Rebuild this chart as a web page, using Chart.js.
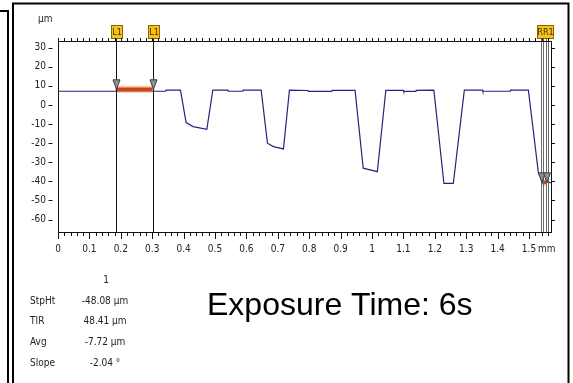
<!DOCTYPE html>
<html><head><meta charset="utf-8">
<script src="https://cdn.jsdelivr.net/npm/chart.js@4/dist/chart.umd.min.js"></script>
<style>html,body{margin:0;padding:0;background:#fff;}canvas{display:block}</style>
</head><body>
<canvas id="c" width="573" height="383"></canvas>
<script>
// ---- data ----
const profileX = [0, 0.343, 0.344, 0.39, 0.408, 0.43, 0.474, 0.493, 0.541, 0.542, 0.589, 0.59, 0.647,
  0.667, 0.686, 0.718, 0.737, 0.796, 0.797, 0.872, 0.873, 0.946, 0.972, 0.994, 1.017, 1.044,
  1.10, 1.101, 1.14, 1.141, 1.197, 1.229, 1.259, 1.294, 1.352, 1.353, 1.44, 1.441, 1.498,
  1.53, 1.545, 1.57];
const profileY = [7.2, 7.2, 7.8, 7.8, -9.2, -11.3, -12.7, 7.8, 7.8, 7.2, 7.2, 7.8, 7.8,
  -20.0, -21.8, -23.0, 7.8, 7.6, 7.1, 7.1, 7.6, 7.6, -33.1, -34.0, -34.9, 7.6,
  7.6, 7.1, 7.1, 7.7, 7.8, -41.0, -41.0, 7.8, 7.8, 7.2, 7.2, 7.8, 7.8,
  -35.8, -40.3, -40.6];
const yTickValues = [30, 20, 10, 0, -10, -20, -30, -40, -50, -60];
const xTickValues = [0, 0.1, 0.2, 0.3, 0.4, 0.5, 0.6, 0.7, 0.8, 0.9, 1, 1.1, 1.2, 1.3, 1.4, 1.5];
const markerL = [0.184, 0.301];
const markerR = [1.541, 1.557];
const levelL = 8.2;
const levelR = -40.5;
const markerLabelsL = ['L1', 'L1'];
const markerLabelR = 'RR1';
const xRange = [0, 1.57];
const yRange = [-66.5, 33.5];
const yUnit = 'µm';
const xUnit = 'mm';
const statHeader = '1';
const statNames = ['StpHt', 'TIR', 'Avg', 'Slope'];
const statValues = ['-48.08 µm', '48.41 µm', '-7.72 µm', '-2.04 °'];
const annotation = 'Exposure Time: 6s';

const FONT = '"Liberation Sans Narrow","DejaVu Sans Condensed","Liberation Sans",sans-serif';
const profile = profileX.map((x, i) => ({x, y: profileY[i]}));
const segL = markerL.map(x => ({x, y: levelL}));
const segR = markerR.map(x => ({x, y: levelR}));

const framePlugin = {
  id: 'frame',
  beforeDraw(chart) {
    const ctx = chart.ctx;
    ctx.save();
    ctx.fillStyle = '#fff';
    ctx.fillRect(0, 0, chart.width, chart.height);
    ctx.strokeStyle = '#000';
    ctx.lineWidth = 2;
    ctx.beginPath();
    ctx.moveTo(0, 11); ctx.lineTo(8, 11); ctx.lineTo(8, 390);
    ctx.stroke();
    ctx.strokeRect(13, 3.5, 555.5, 390);
    ctx.restore();
  }
};

const axesPlugin = {
  id: 'axesExtra',
  afterDraw(chart) {
    const ctx = chart.ctx, a = chart.chartArea;
    const xs = chart.scales.x, ys = chart.scales.y;
    ctx.save();
    ctx.strokeStyle = '#111';
    ctx.lineWidth = 1;
    ctx.beginPath();
    ctx.moveTo(a.left, a.top + 0.5); ctx.lineTo(a.right, a.top + 0.5);
    ctx.moveTo(a.right + 0.5, a.top); ctx.lineTo(a.right + 0.5, a.bottom);
    ctx.stroke();
    ctx.beginPath();
    for (let k = 0; k * 0.02 <= xRange[1] + 1e-9; k++) {
      const px = Math.round(xs.getPixelForValue(k * 0.02)) + 0.5;
      const major = k % 5 === 0;
      ctx.moveTo(px, a.bottom); ctx.lineTo(px, a.bottom + (major ? 7 : 4));
      ctx.moveTo(px, a.top); ctx.lineTo(px, a.top - 3);
    }
    ys.ticks.forEach(t => {
      const py = Math.round(ys.getPixelForValue(t.value)) + 0.5;
      ctx.moveTo(48.5, py); ctx.lineTo(52.5, py);
      ctx.moveTo(a.right, py); ctx.lineTo(a.right + 4, py);
    });
    ctx.stroke();
    ctx.fillStyle = '#222';
    ctx.font = '10px ' + FONT;
    ctx.textBaseline = 'middle';
    ctx.textAlign = 'left';
    ctx.fillText(yUnit, 38, 19);
    const last = xs.ticks[xs.ticks.length - 1];
    ctx.fillText(xUnit, xs.getPixelForValue(last.value) + 9, 249);
    ctx.textAlign = 'center';
    ctx.fillText(statHeader, 106, 280);
    statNames.forEach((n, i) => {
      const y = 301 + i * 20.7;
      ctx.textAlign = 'left';
      ctx.fillText(n, 30, y);
      ctx.textAlign = 'center';
      ctx.fillText(statValues[i], 105, y);
    });
    ctx.fillStyle = '#000';
    ctx.font = '32px "Liberation Sans", Arial, sans-serif';
    ctx.textAlign = 'left';
    ctx.textBaseline = 'alphabetic';
    ctx.fillText(annotation, 207, 315);
    ctx.restore();
  }
};

function drawArrow(ctx, px, tipY) {
  ctx.beginPath();
  ctx.moveTo(px - 3.5, tipY - 9.5);
  ctx.lineTo(px + 3.5, tipY - 9.5);
  ctx.lineTo(px, tipY);
  ctx.closePath();
  ctx.fillStyle = '#8f8f96';
  ctx.fill();
  ctx.strokeStyle = '#3a3a44';
  ctx.lineWidth = 1;
  ctx.stroke();
}
function drawTag(ctx, x0, w, text) {
  ctx.fillStyle = '#f3c21c';
  ctx.fillRect(x0, 25, w, 14);
  ctx.strokeStyle = '#8a6200';
  ctx.lineWidth = 1;
  ctx.strokeRect(x0 + 0.5, 25.5, w - 1, 13);
  ctx.fillStyle = '#4a3000';
  ctx.font = '9px ' + FONT;
  ctx.textAlign = 'center';
  ctx.textBaseline = 'middle';
  ctx.fillText(text, x0 + w / 2, 32.5);
}

const markerPlugin = {
  id: 'markers',
  afterDatasetsDraw(chart) {
    const ctx = chart.ctx, a = chart.chartArea;
    const xs = chart.scales.x, ys = chart.scales.y;
    ctx.save();
    ctx.strokeStyle = '#111';
    ctx.lineWidth = 1;
    markerL.forEach(v => {
      const px = Math.round(xs.getPixelForValue(v)) + 0.5;
      ctx.beginPath(); ctx.moveTo(px, 39); ctx.lineTo(px, a.bottom); ctx.stroke();
    });
    ctx.strokeStyle = '#6a6a6a';
    markerR.forEach(v => {
      const px = xs.getPixelForValue(v);
      ctx.beginPath();
      ctx.moveTo(Math.round(px - 1) + 0.5, 39); ctx.lineTo(Math.round(px - 1) + 0.5, a.bottom);
      ctx.moveTo(Math.round(px + 1) + 0.5, 39); ctx.lineTo(Math.round(px + 1) + 0.5, a.bottom);
      ctx.stroke();
    });
    markerL.forEach(v => drawArrow(ctx, Math.round(xs.getPixelForValue(v)) + 0.5, ys.getPixelForValue(levelL)));
    markerR.forEach(v => drawArrow(ctx, xs.getPixelForValue(v), ys.getPixelForValue(levelR)));
    markerL.forEach((v, i) => {
      const px = xs.getPixelForValue(v);
      drawTag(ctx, Math.round(px) - 5, 12, markerLabelsL[i]);
    });
    const r0 = xs.getPixelForValue(markerR[0]);
    drawTag(ctx, Math.round(r0) - 5, 17, markerLabelR);
    ctx.restore();
  }
};

new Chart(document.getElementById('c'), {
  type: 'scatter',
  data: {
    datasets: [
      {data: segL, showLine: true, borderColor: '#d3401c', borderWidth: 3.5, pointRadius: 0, order: 0},
      {data: segR, showLine: true, borderColor: '#d3401c', borderWidth: 3.5, pointRadius: 0, order: 0},
      {data: segL, showLine: true, borderColor: 'rgba(245,165,70,0.55)', borderWidth: 7, pointRadius: 0, order: 1},
      {data: segR, showLine: true, borderColor: 'rgba(245,165,70,0.55)', borderWidth: 7, pointRadius: 0, order: 1},
      {data: profile, showLine: true, borderColor: '#25257e', borderWidth: 1.2, pointRadius: 0, tension: 0, order: 2}
    ]
  },
  options: {
    responsive: false,
    animation: false,
    devicePixelRatio: 1,
    layout: {padding: {left: 18, right: 22, top: 41, bottom: 121}},
    plugins: {legend: {display: false}, tooltip: {enabled: false}},
    scales: {
      x: {
        type: 'linear', min: xRange[0], max: xRange[1],
        afterFit: s => { s.height = 30; },
        afterBuildTicks: s => { s.ticks = xTickValues.map(v => ({value: v})); },
        grid: {display: false, drawTicks: false},
        border: {display: true, color: '#111', width: 1},
        ticks: {
          autoSkip: false, maxRotation: 0,
          padding: 11, color: '#222', font: {family: FONT, size: 10},
          callback: v => String(+Number(v).toFixed(2))
        }
      },
      y: {
        type: 'linear', min: yRange[0], max: yRange[1],
        afterFit: s => { s.width = 40; },
        afterBuildTicks: s => { s.ticks = yTickValues.map(v => ({value: v})); },
        grid: {display: false, drawTicks: false},
        border: {display: true, color: '#111', width: 1},
        ticks: {
          padding: 12, color: '#222', font: {family: FONT, size: 10}
        }
      }
    }
  },
  plugins: [framePlugin, axesPlugin, markerPlugin]
});
</script>
</body></html>
